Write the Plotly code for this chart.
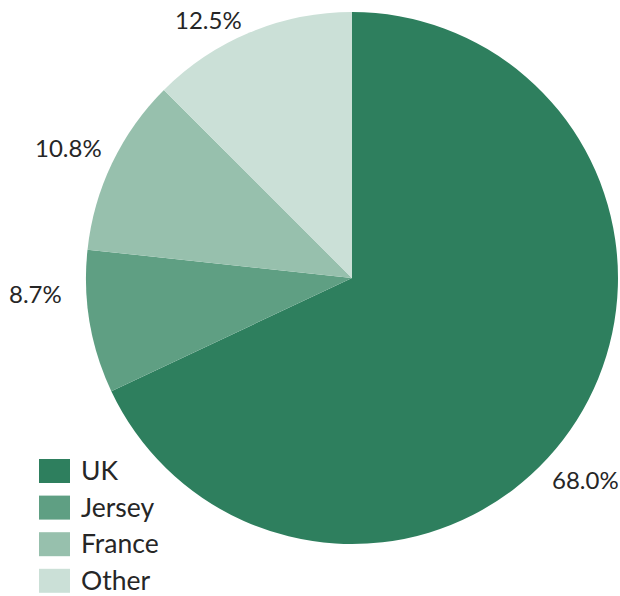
import plotly.graph_objects as go

# ── Data ──────────────────────────────────────────────────────────────────────
labels = ["UK", "Jersey", "France", "Other"]
shares = [68.0, 8.7, 10.8, 12.5]
colors = ["#2e7f5e", "#5f9f83", "#97c0ad", "#cbe0d7"]

FONT = "Lato, 'Open Sans', sans-serif"
TEXT = "#262626"
W, H = 620, 596

# label centres (px from top-left), placed as in the original
label_xy = [(585, 480), (35, 293), (68, 148), (208, 19)]

fig = go.Figure(
    go.Pie(
        labels=labels,
        values=shares,
        sort=False,
        direction="clockwise",
        rotation=0,
        marker=dict(colors=colors, line=dict(width=0)),
        textinfo="none",
        automargin=False,
        showlegend=False,
        domain=dict(x=[86 / W, 618 / W], y=[52 / H, 584 / H]),
        hoverinfo="label+percent",
    )
)

# ── Data labels ───────────────────────────────────────────────────────────────
for val, (sx, sy) in zip(shares, label_xy):
    fig.add_annotation(
        xref="paper", yref="paper",
        x=sx / W, y=1 - sy / H,
        xanchor="center", yanchor="middle", showarrow=False, borderpad=0,
        text=f"{val:.1f}%", font=dict(family=FONT, size=24, color=TEXT),
    )

# ── Legend (drawn by hand so the swatches are as big as the original) ───────
for i, (name, col) in enumerate(zip(labels, colors)):
    top = 459 + i * 36.6
    fig.add_shape(
        type="rect", xref="paper", yref="paper",
        x0=39 / W, x1=70 / W, y0=1 - (top + 24) / H, y1=1 - top / H,
        fillcolor=col, line=dict(width=0),
    )
    fig.add_annotation(
        xref="paper", yref="paper", x=80 / W, y=1 - (top + 11) / H,
        xanchor="left", yanchor="middle", showarrow=False, borderpad=0,
        text=name, font=dict(family=FONT, size=26.5, color=TEXT),
    )

fig.update_layout(
    width=W,
    height=H,
    margin=dict(l=0, r=0, t=0, b=0, autoexpand=False),
    paper_bgcolor="white",
    plot_bgcolor="white",
)

# drop the browser's default 8px body margin so the figure fills the window
fig.write_html(
    "out.html",
    config={"displayModeBar": False},
    post_script="document.body.style.margin = '0';",
)
